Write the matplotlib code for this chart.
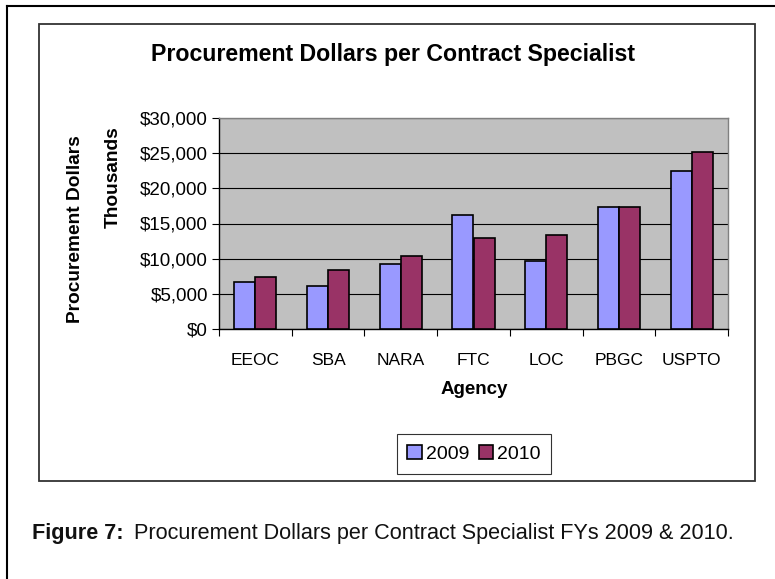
import numpy as np
import matplotlib
matplotlib.use('Agg')
import matplotlib.pyplot as plt
from matplotlib.patches import Rectangle
from matplotlib.lines import Line2D

agencies = ['EEOC', 'SBA', 'NARA', 'FTC', 'LOC', 'PBGC', 'USPTO']
fy2009 = [6650, 6150, 9200, 16150, 9650, 17400, 22450]
fy2010 = [7400, 8400, 10400, 12950, 13400, 17400, 25150]
years = ['2009', '2010']
yticks = [0, 5000, 10000, 15000, 20000, 25000, 30000]

plt.rcParams['font.family'] = ['Liberation Sans', 'DejaVu Sans']

W, H = 775, 579
fig = plt.figure(figsize=(W / 100, H / 100), dpi=100)

def fx(px):
    return px / W

def fy(py):
    return 1 - py / H

# outer frame
fig.add_artist(Line2D([fx(7), fx(7)], [fy(6), 0], color='black', lw=1.5))
fig.add_artist(Line2D([fx(7), 1], [fy(6), fy(6)], color='black', lw=1.5))

# chart box
fig.add_artist(Rectangle((fx(39), fy(481)), fx(755) - fx(39), fy(24) - fy(481),
                         fill=False, edgecolor='#333333', lw=1.3))

ax = fig.add_axes([fx(219), fy(329), fx(728) - fx(219), fy(118) - fy(329)])
ax.set_facecolor('#C0C0C0')

x = np.arange(len(agencies))
w = 0.29
ax.bar(x - w / 2, fy2009, w, color='#9999FF', edgecolor='black', lw=1.2, label=years[0], zorder=3)
ax.bar(x + w / 2, fy2010, w, color='#993366', edgecolor='black', lw=1.2, label=years[1], zorder=3)

ax.set_xlim(-0.5, len(agencies) - 0.5)
ax.set_ylim(0, 30000)
ax.set_yticks(yticks)
ax.set_yticklabels(['${:,}'.format(v) for v in yticks], fontsize=13.5)
ax.yaxis.grid(True, color='black', lw=0.8, zorder=1)

ax.set_xticks(np.arange(len(agencies) + 1) - 0.5)
ax.set_xticklabels([])
ax.set_xticks(x, minor=True)
ax.set_xticklabels(agencies, minor=True, fontsize=12.5)
ax.tick_params(axis='x', which='minor', length=0, pad=17)
ax.tick_params(axis='x', which='major', length=5, direction='out', color='black')
ax.tick_params(axis='y', length=5, direction='out', color='black', pad=3)

for s in ['left', 'bottom']:
    ax.spines[s].set_color('black')
    ax.spines[s].set_linewidth(1.0)
for s in ['top', 'right']:
    ax.spines[s].set_color('#808080')
    ax.spines[s].set_linewidth(1.0)

fig.text(fx(393), fy(55), 'Procurement Dollars per Contract Specialist',
         fontsize=16.7, fontweight='bold', ha='center', va='center')
fig.text(fx(75), fy(229), 'Procurement Dollars', fontsize=13.8, fontweight='bold',
         rotation=90, ha='center', va='center')
fig.text(fx(113), fy(177), 'Thousands', fontsize=13.8, fontweight='bold',
         rotation=90, ha='center', va='center')
fig.text(fx(474), fy(390), 'Agency', fontsize=13.5, fontweight='bold',
         ha='center', va='center')

leg = fig.legend(loc='center', bbox_to_anchor=(fx(474), fy(454)), ncol=2,
                 fontsize=14, frameon=True, fancybox=False, edgecolor='black',
                 handlelength=0.75, handleheight=0.75, handletextpad=0.2,
                 columnspacing=0.5, borderpad=0.55)
leg.get_frame().set_linewidth(0.8)

cap1 = fig.text(fx(32), fy(534), 'Figure 7:', fontsize=15.6, fontweight='bold',
                ha='left', va='center', color='#111111')
fig.canvas.draw()
bb = cap1.get_window_extent()
fig.text((bb.x1 + 11) / W, fy(534), 'Procurement Dollars per Contract Specialist FYs 2009 & 2010.',
         fontsize=15.6, ha='left', va='center', color='#111111')

fig.savefig('out.png', dpi=100)
